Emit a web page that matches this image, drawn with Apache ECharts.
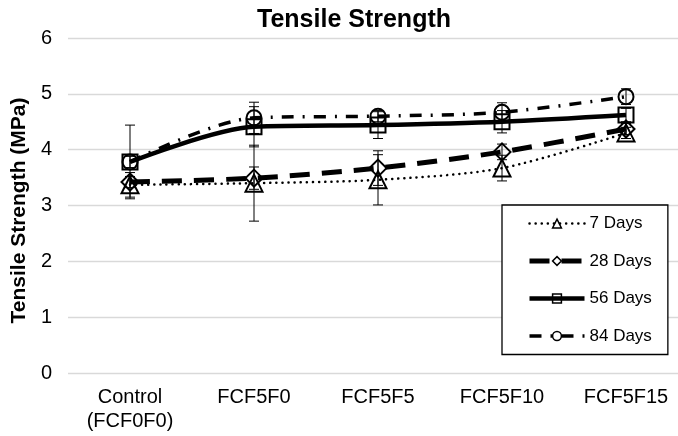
<!DOCTYPE html>
<html>
<head>
<meta charset="utf-8">
<script src="https://cdn.jsdelivr.net/npm/echarts@6/dist/echarts.min.js"></script>
<style>
  html, body { margin: 0; padding: 0; background: #fff; }
  #chart { width: 678px; height: 436px; }
</style>
</head>
<body>
<div id="chart"></div>
<script>
// categories and values
var categories = ['Control\n(FCF0F0)', 'FCF5F0', 'FCF5F5', 'FCF5F10', 'FCF5F15'];
var yTicks = [0, 1, 2, 3, 4, 5, 6];

var days7 = [3.37, 3.40, 3.46, 3.67, 4.30];
var days28 = [3.42, 3.49, 3.67, 3.96, 4.37];
var days56 = [3.78, 4.41, 4.44, 4.50, 4.62];
var days84 = [3.78, 4.57, 4.60, 4.67, 4.95];

// +/- error (standard deviation)
var err7 = [0.22, 0.68, 0.45, 0.23, 0.10];
var err28 = [0.10, 0.20, 0.31, 0.14, 0.10];
var err56 = [0.66, 0.36, 0.24, 0.20, 0.12];
var err84 = [0.10, 0.28, 0.10, 0.17, 0.14];

var chart = echarts.init(document.getElementById('chart'));

// build [index, low, high] rows for the error bar series
function errorRows(values, errs) {
    var rows = [];
    for (var i = 0; i < values.length; i++) {
        rows.push([i, values[i] - errs[i], values[i] + errs[i]]);
    }
    return rows;
}

function renderErrorBar(params, api) {
    var x = api.value(0);
    var top = api.coord([x, api.value(2)]);
    var bot = api.coord([x, api.value(1)]);
    var half = 5;
    var style = { stroke: '#000', lineWidth: 1 };
    return {
        type: 'group',
        children: [
            { type: 'line', shape: { x1: top[0], y1: top[1], x2: bot[0], y2: bot[1] }, style: style },
            { type: 'line', shape: { x1: top[0] - half, y1: top[1], x2: top[0] + half, y2: top[1] }, style: style },
            { type: 'line', shape: { x1: bot[0] - half, y1: bot[1], x2: bot[0] + half, y2: bot[1] }, style: style }
        ]
    };
}

function lineSeries(name, data, symbol, size, lineStyle) {
    return {
        name: name,
        type: 'line',
        data: data,
        smooth: 0.3,
        symbol: symbol,
        symbolSize: size,
        showAllSymbol: true,
        z: 2,
        lineStyle: lineStyle,
        itemStyle: { color: 'rgba(255,255,255,0)', borderColor: '#000', borderWidth: 2 }
    };
}

function errorSeries(name, values, errs) {
    return {
        name: name,
        type: 'custom',
        data: errorRows(values, errs),
        renderItem: renderErrorBar,
        silent: true,
        z: 3
    };
}

var option = {
    animation: false,
    textStyle: { fontFamily: 'Liberation Sans, Arial, sans-serif' },
    title: {
        text: 'Tensile Strength',
        left: 349,
        top: 3,
        textAlign: 'center',
        textStyle: { fontSize: 25, fontWeight: 'bold', color: '#000' }
    },
    legend: {
        orient: 'vertical',
        left: 502,
        top: 205,
        data: ['7 Days', '28 Days', '56 Days', '84 Days'],
        itemWidth: 55,
        itemHeight: 11,
        itemGap: 20.5,
        padding: [10, 16, 10, 25],
        borderColor: '#000',
        borderWidth: 1.3,
        backgroundColor: '#fff',
        lineStyle: { width: 'inherit' },
        itemStyle: { borderWidth: 1.5 },
        textStyle: { fontSize: 17, color: '#000' }
    },
    grid: { left: 68, top: 38, bottom: 63, width: 620, outerBoundsMode: 'none' },
    xAxis: {
        type: 'category',
        data: categories,
        axisLine: { show: false },
        axisTick: { show: false },
        axisLabel: { fontSize: 20, color: '#000', margin: 12, lineHeight: 24 }
    },
    yAxis: {
        type: 'value',
        min: yTicks[0],
        max: yTicks[yTicks.length - 1],
        interval: 1,
        name: 'Tensile Strength (MPa)',
        nameLocation: 'middle',
        nameGap: 36,
        nameTextStyle: { fontSize: 21, fontWeight: 'bold', color: '#000', padding: [0, 10, 0, 0] },
        axisLabel: { fontSize: 20, color: '#000', margin: 16 },
        splitLine: { lineStyle: { color: '#d9d9d9', width: 1.3 } }
    },
    series: [
        lineSeries('7 Days', days7, 'triangle', 17, { color: '#000', width: 2.5, type: [0.1, 6], cap: 'round' }),
        lineSeries('28 Days', days28, 'diamond', 17, { color: '#000', width: 5, type: [20, 12] }),
        lineSeries('56 Days', days56, 'rect', 15, { color: '#000', width: 4.5 }),
        lineSeries('84 Days', days84, 'circle', 15, { color: '#000', width: 3.5, type: [12, 9, 2, 9] }),
        errorSeries('err7', days7, err7),
        errorSeries('err28', days28, err28),
        errorSeries('err56', days56, err56),
        errorSeries('err84', days84, err84)
    ]
};

chart.setOption(option);
</script>
</body>
</html>
